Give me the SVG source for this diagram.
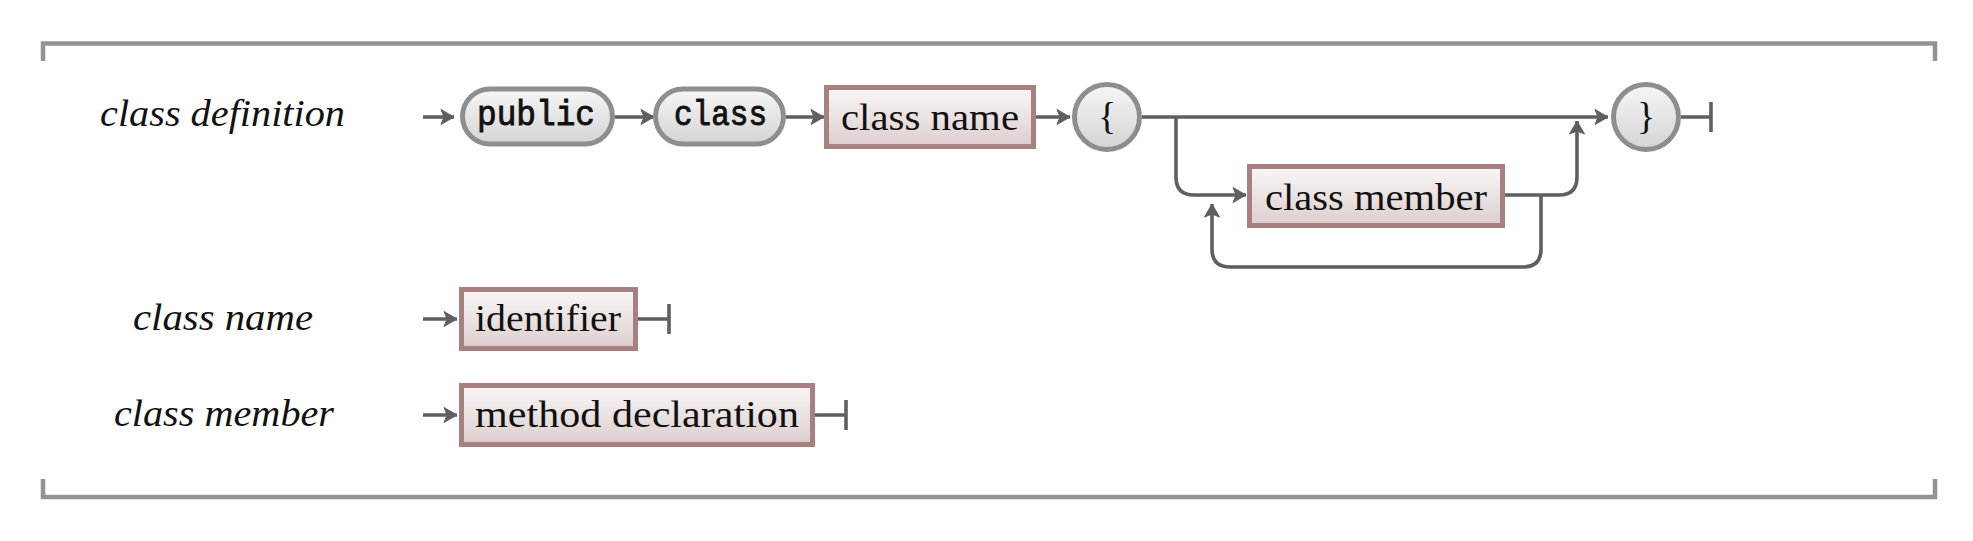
<svg xmlns="http://www.w3.org/2000/svg" width="1973" height="541" viewBox="0 0 1973 541">
<defs>
<linearGradient id="gGray" x1="0" y1="0" x2="0" y2="1">
<stop offset="0" stop-color="#f6f6f6"/>
<stop offset="1" stop-color="#d4d4d4"/>
</linearGradient>
<linearGradient id="gRed" x1="0" y1="0" x2="0" y2="1">
<stop offset="0" stop-color="#faf7f7"/>
<stop offset="1" stop-color="#dccdcd"/>
</linearGradient>
<marker id="arr" viewBox="-15 -9 16 18" refX="0" refY="0" markerWidth="16" markerHeight="18" markerUnits="userSpaceOnUse" orient="auto">
<path d="M0,0 L-13,-7.5 L-10,0 L-13,7.5 Z" fill="#5f5f5f" stroke="#5f5f5f" stroke-width="1" stroke-linejoin="round"/>
</marker>
<style>
.frame{fill:none;stroke:#939393;stroke-width:4.5}
.term{fill:url(#gGray);stroke:#8e8e8e;stroke-width:5}
.nt{fill:url(#gRed);stroke:#a88080;stroke-width:5}
.c{fill:none;stroke:#5f5f5f;stroke-width:3.6}
.ca{fill:none;stroke:#5f5f5f;stroke-width:3.6;marker-end:url(#arr)}
.lab{font-family:"Liberation Serif",serif;font-style:italic;font-size:37px;fill:#111;text-anchor:middle}
.rm{font-family:"Liberation Serif",serif;font-size:38px;fill:#111;text-anchor:middle}
.tt{font-family:"Liberation Mono",monospace;font-size:35px;fill:#111;stroke:#111;stroke-width:0.9;text-anchor:middle}
</style>
</defs>
<rect width="1973" height="541" fill="#ffffff"/>
<g id="frame">
<path class="frame" d="M43,61 V43.5 H1935 V61"/>
<path class="frame" d="M43,479 V497 H1935 V479"/>
</g>
<g id="labels">
<text class="lab" x="222.5" y="126" textLength="245" lengthAdjust="spacingAndGlyphs">class definition</text>
<text class="lab" x="223" y="330" textLength="180" lengthAdjust="spacingAndGlyphs">class name</text>
<text class="lab" x="224" y="426" textLength="220" lengthAdjust="spacingAndGlyphs">class member</text>
</g>
<g id="connectors">
<path class="ca" d="M423,117 H454"/>
<path class="ca" d="M615,117 H654"/>
<path class="ca" d="M786,117 H824"/>
<path class="ca" d="M1036,117 H1070"/>
<path class="ca" d="M1142,117 H1608"/>
<path class="c" d="M1681,117 H1711 M1711,102 V132"/>
<path class="ca" d="M1176,117 V177 Q1176,195 1194,195 H1246"/>
<path class="ca" d="M1505,195 H1559 Q1577,195 1577,177 V121"/>
<path class="ca" d="M1541,195 V249 Q1541,267 1523,267 H1230 Q1212,267 1212,249 V204"/>
<path class="ca" d="M423,319 H457"/>
<path class="c" d="M638,319 H669 M669,304 V334"/>
<path class="ca" d="M423,415 H457"/>
<path class="c" d="M815,415 H846 M846,400 V430"/>
</g>
<g id="node-public">
<rect class="term" x="462.5" y="89" width="150" height="55" rx="27.5"/>
<text class="tt" x="536" y="125" textLength="118" lengthAdjust="spacingAndGlyphs">public</text>
</g>
<g id="node-class">
<rect class="term" x="655.5" y="89" width="128" height="55" rx="27.5"/>
<text class="tt" x="720.5" y="125" textLength="93" lengthAdjust="spacingAndGlyphs">class</text>
</g>
<g id="node-classname">
<rect class="nt" x="826.5" y="87.5" width="207" height="59"/>
<text class="rm" x="930" y="130" textLength="178" lengthAdjust="spacingAndGlyphs">class name</text>
</g>
<g id="node-lbrace">
<circle class="term" cx="1107" cy="117" r="32.5"/>
<text class="rm" x="1107" y="129">{</text>
</g>
<g id="node-classmember">
<rect class="nt" x="1249.5" y="166.5" width="253" height="59"/>
<text class="rm" x="1376" y="210" textLength="222" lengthAdjust="spacingAndGlyphs">class member</text>
</g>
<g id="node-rbrace">
<circle class="term" cx="1646" cy="117" r="32.5"/>
<text class="rm" x="1646" y="129">}</text>
</g>
<g id="node-identifier">
<rect class="nt" x="461.5" y="289.5" width="174" height="59"/>
<text class="rm" x="548" y="331" textLength="146" lengthAdjust="spacingAndGlyphs">identifier</text>
</g>
<g id="node-method">
<rect class="nt" x="461.5" y="385.5" width="351" height="59"/>
<text class="rm" x="637" y="427" textLength="324" lengthAdjust="spacingAndGlyphs">method declaration</text>
</g>
</svg>
